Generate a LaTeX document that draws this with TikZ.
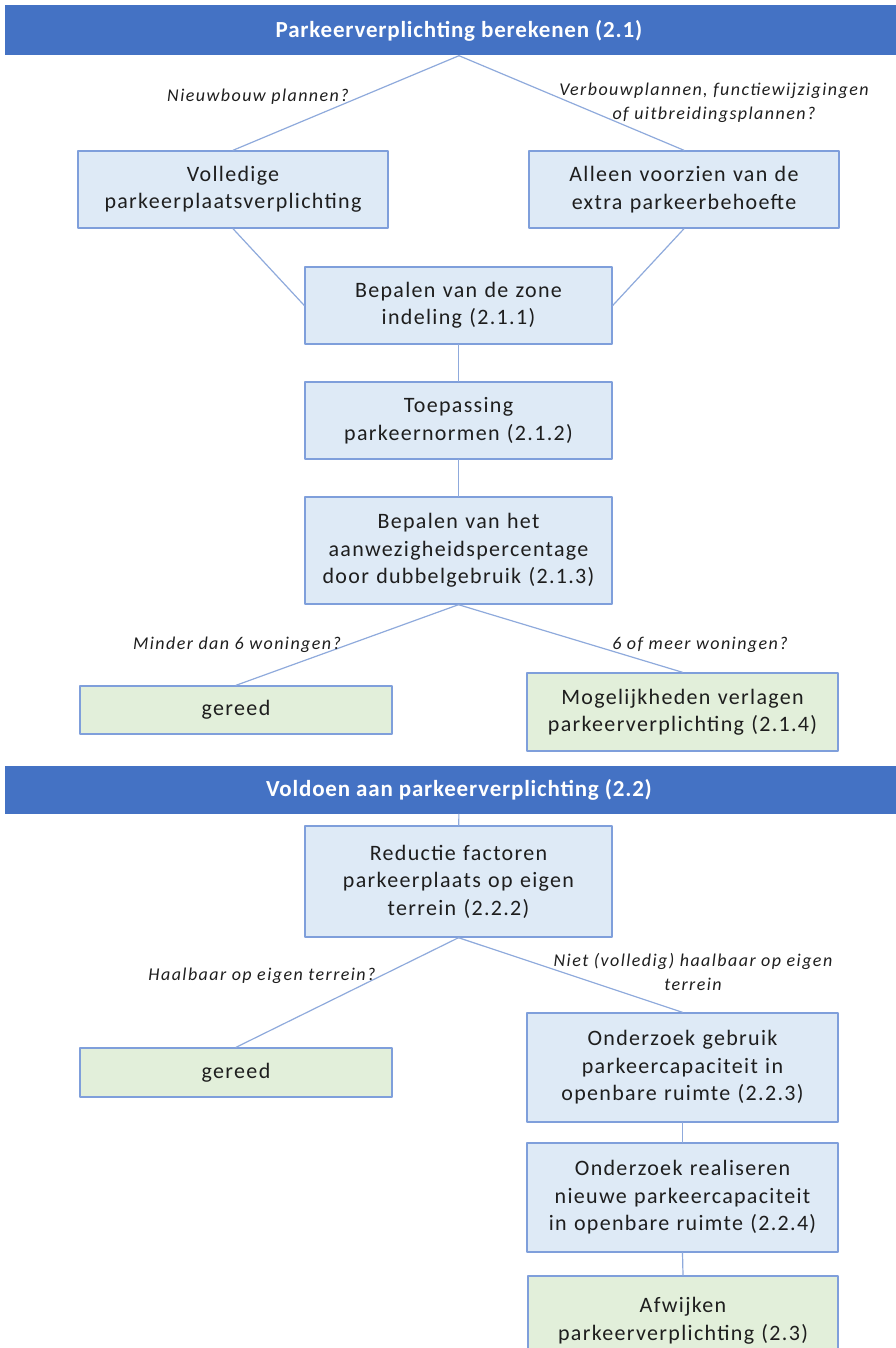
\documentclass[tikz,border=0pt]{standalone}
\usepackage{fontspec}
\setmainfont{Carlito}
\usetikzlibrary{positioning}
\newfontfamily\parkWide[LetterSpace=6]{Carlito}
\newfontfamily\parkHeadFont[LetterSpace=3.5]{Carlito}
\newfontfamily\parkAskFont[LetterSpace=8]{Carlito}
\definecolor{parkHead}{HTML}{4472C4}
\definecolor{parkBlue}{HTML}{DEEAF6}
\definecolor{parkGreen}{HTML}{E2EFDA}
\definecolor{parkEdge}{HTML}{7F9FDB}
\definecolor{parkLine}{HTML}{8FAADC}
\definecolor{parkInk}{HTML}{1E1E1E}
\begin{document}
\begin{tikzpicture}[x=1pt,y=-1pt,line cap=round,line join=round]
\useasboundingbox[fill=white] (0,0) rectangle (895,1348);
\tikzset{hdr/.style={fill=parkHead,text=white,font=\parkHeadFont\bfseries\fontsize{23}{27}\selectfont,minimum width=908pt,inner sep=0pt},
  box/.style={draw=parkEdge,fill=parkBlue,line width=1.4pt,text=parkInk,font=\parkWide\fontsize{22}{27.5}\selectfont,align=center,text width=300pt,minimum width=310pt,inner sep=0pt},
  donebox/.style={box,fill=parkGreen},
  link/.style={draw=parkLine,line width=1.2pt},
  ask/.style={font=\parkAskFont\itshape\fontsize{18}{24}\selectfont,text=parkInk,align=center,inner sep=0pt}}
\node[hdr,minimum height=50pt] (hdrA) at (459,30.5) {Parkeerverplichting berekenen (2.1)};
\node[box,minimum height=77pt] (volle) at (233,189.5) {Volledige\\parkeerplaatsverplichting};
\node[box,minimum height=77pt] (extra) at (684,189.5) {Alleen voorzien van de\\extra parkeerbehoefte};
\node[box,minimum height=77pt,minimum width=307pt] (zone) at (458.5,305.5) {Bepalen van de zone\\indeling (2.1.1)};
\node[box,minimum height=77pt,minimum width=307pt] (normen) at (458.5,420.5) {Toepassing\\parkeernormen (2.1.2)};
\node[box,minimum height=107pt,minimum width=307pt] (dubbel) at (458.5,550.5) {Bepalen van het\\aanwezigheidspercentage\\door dubbelgebruik (2.1.3)};
\node[donebox,minimum height=48pt,minimum width=312pt] (gereedA) at (236,710) {gereed};
\node[donebox,minimum height=78pt,minimum width=311pt] (verlagen) at (682.5,712) {Mogelijkheden verlagen\\parkeerverplichting (2.1.4)};
\node[hdr,minimum height=48pt] (hdrB) at (459,790) {Voldoen aan parkeerverplichting (2.2)};
\node[box,minimum height=111pt,minimum width=307pt] (reductie) at (458.5,881.5) {Reductie factoren\\parkeerplaats op eigen\\terrein (2.2.2)};
\node[donebox,minimum height=49pt,minimum width=312pt] (gereedB) at (236,1072.5) {gereed};
\node[box,minimum height=109pt,minimum width=311pt] (gebruik) at (682.5,1067.5) {Onderzoek gebruik\\parkeercapaciteit in\\openbare ruimte (2.2.3)};
\node[box,minimum height=109pt,minimum width=311pt] (nieuw) at (682.5,1197.5) {Onderzoek realiseren\\nieuwe parkeercapaciteit\\in openbare ruimte (2.2.4)};
\node[donebox,minimum height=92pt,minimum width=310pt,text depth=34pt] (afwijken) at (683,1322) {Afwijken\\parkeerverplichting (2.3)};
\draw[link] (hdrA.south) -- (volle.north); \draw[link] (hdrA.south) -- (extra.north);
\draw[link] (volle.south) -- (zone.west); \draw[link] (extra.south) -- (zone.east);
\draw[link] (zone) -- (normen); \draw[link] (normen) -- (dubbel);
\draw[link] (dubbel.south) -- (gereedA.north); \draw[link] (dubbel.south) -- (verlagen.north);
\draw[link] (hdrB) -- (reductie);
\draw[link] (reductie.south) -- (gereedB.north); \draw[link] (reductie.south) -- (gebruik.north);
\draw[link] (gebruik) -- (nieuw); \draw[link] (nieuw.south) -- (afwijken.north);
\node[ask] (askNieuw) at (258,97) {Nieuwbouw plannen?};
\node[ask] (askVerbouw) at (714,103) {Verbouwplannen, functiewijzigingen\\of uitbreidingsplannen?};
\node[ask] (askMinder) at (237,645) {Minder dan 6 woningen?};
\node[ask] (askMeer) at (700,645) {6 of meer woningen?};
\node[ask] (askHaal) at (262,976) {Haalbaar op eigen terrein?};
\node[ask] (askNiet) at (693,972) {Niet (volledig) haalbaar op eigen\\terrein};
\end{tikzpicture}
\end{document}
